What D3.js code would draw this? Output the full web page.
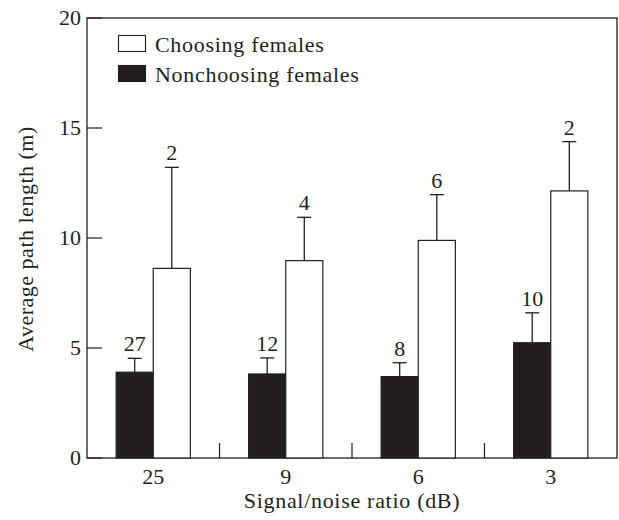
<!DOCTYPE html>
<html><head><meta charset="utf-8">
<script src="https://cdn.jsdelivr.net/npm/d3@7"></script>
<style>body{margin:0;background:#fff}svg{display:block}text{font-family:"Liberation Serif","DejaVu Serif",serif;fill:#231f20}</style>
</head><body><svg id="c" width="619" height="520"></svg>
<script>
const categories = ["25", "9", "6", "3"];
const nonchoosing = [3.9, 3.82, 3.7, 5.24];
const nonchoosingErr = [4.53, 4.55, 4.33, 6.6];
const nonchoosingN = ["27", "12", "8", "10"];
const choosing = [8.62, 8.97, 9.89, 12.14];
const choosingErr = [13.21, 10.94, 11.97, 14.38];
const choosingN = ["2", "4", "6", "2"];
const yTicks = [0, 5, 10, 15, 20];
const seriesNames = ["Choosing females", "Nonchoosing females"];

const svg = d3.select("#c");
const L = 87, R = 617, T = 18, B = 458;
const ink = "#231f20";
const x = d3.scaleBand().domain(categories).range([L, R]);
const y = d3.scaleLinear().domain([0, 20]).range([B, T]);
const bw = x.bandwidth() * 0.28;

svg.append("rect").attr("x", L).attr("y", T).attr("width", R - L).attr("height", B - T)
  .attr("fill", "none").attr("stroke", ink).attr("stroke-width", 1.3);

svg.selectAll(".yt").data(yTicks).join("line")
  .attr("x1", L).attr("x2", L + 15).attr("y1", d => y(d)).attr("y2", d => y(d))
  .attr("stroke", ink).attr("stroke-width", 1.2);
svg.selectAll(".yl").data(yTicks).join("text")
  .attr("x", L - 6).attr("y", d => y(d) + 7).attr("text-anchor", "end")
  .attr("font-size", 22).text(d => d);

svg.selectAll(".xs").data(categories.slice(1)).join("line")
  .attr("x1", d => x(d)).attr("x2", d => x(d)).attr("y1", B).attr("y2", B - 15)
  .attr("stroke", ink).attr("stroke-width", 1.2);
svg.selectAll(".xl").data(categories).join("text")
  .attr("x", d => x(d) + x.bandwidth() / 2).attr("y", 484).attr("text-anchor", "middle")
  .attr("font-size", 22).text(d => d);

function series(vals, errs, ns, offset, fill) {
  const g = svg.append("g");
  categories.forEach((c, i) => {
    const cx = x(c) + x.bandwidth() / 2 + offset;
    g.append("line").attr("x1", cx).attr("x2", cx).attr("y1", y(vals[i])).attr("y2", y(errs[i]))
      .attr("stroke", ink).attr("stroke-width", 1.3);
    g.append("line").attr("x1", cx - 7).attr("x2", cx + 7).attr("y1", y(errs[i])).attr("y2", y(errs[i]))
      .attr("stroke", ink).attr("stroke-width", 1.3);
    g.append("rect").attr("x", cx - bw / 2).attr("y", y(vals[i])).attr("width", bw)
      .attr("height", y(0) - y(vals[i])).attr("fill", fill).attr("stroke", ink).attr("stroke-width", 1.2);
    g.append("text").attr("x", cx).attr("y", y(errs[i]) - 7).attr("text-anchor", "middle")
      .attr("font-size", 22).text(ns[i]);
  });
}
series(nonchoosing, nonchoosingErr, nonchoosingN, -bw / 2, ink);
series(choosing, choosingErr, choosingN, bw / 2, "#fff");

const lg = svg.append("g");
seriesNames.forEach((s, i) => {
  lg.append("rect").attr("x", 118.5).attr("y", 35.5 + i * 30).attr("width", 27).attr("height", 16)
    .attr("fill", i === 0 ? "#fff" : ink).attr("stroke", ink).attr("stroke-width", 1.1);
  lg.append("text").attr("x", 155).attr("y", 52 + i * 30).attr("font-size", 22)
    .attr("letter-spacing", "0.7px").text(s);
});

svg.append("text").attr("x", 352).attr("y", 508).attr("text-anchor", "middle")
  .attr("font-size", 22).attr("letter-spacing", "0.7px").text("Signal/noise ratio (dB)");
svg.append("text").attr("transform", "translate(33,239) rotate(-90)").attr("text-anchor", "middle")
  .attr("font-size", 22).attr("letter-spacing", "0.5px").text("Average path length (m)");
</script></body></html>
